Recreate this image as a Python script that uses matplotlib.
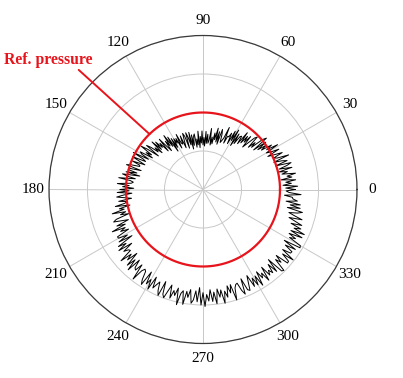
import numpy as np
import matplotlib
matplotlib.use("Agg")
import matplotlib.pyplot as plt

# Measured radius (grid units, 1 unit = one grid ring), one value per degree 0..359
radius = [
    2.39, 2.15, 2.46, 2.08, 2.30, 2.16, 2.42, 2.04, 2.33, 2.21,
    2.44, 2.09, 2.24, 2.03, 2.38, 2.05, 2.27, 2.39, 1.98, 2.31,
    2.18, 1.97, 2.40, 2.09, 2.01, 2.27, 2.06, 1.89, 2.23, 2.01,
    1.90, 2.26, 1.95, 2.12, 1.83, 2.00, 1.76, 2.04, 1.67, 2.12,
    2.02, 1.67, 1.82, 1.61, 1.96, 1.89, 1.68, 1.51, 1.85, 1.63,
    1.80, 1.56, 1.87, 1.49, 1.71, 1.68, 1.44, 1.72, 1.35, 1.80,
    1.47, 1.73, 1.35, 1.64, 1.52, 1.53, 1.32, 1.75, 1.44, 1.36,
    1.30, 1.52, 1.64, 1.23, 1.56, 1.28, 1.64, 1.33, 1.50, 1.21,
    1.38, 1.17, 1.60, 1.29, 1.21, 1.44, 1.20, 1.51, 1.13, 1.35,
    1.16, 1.52, 1.21, 1.38, 1.09, 1.52, 1.17, 1.32, 1.11, 1.46,
    1.41, 1.17, 1.45, 1.08, 1.53, 1.20, 1.42, 1.54, 1.13, 1.46,
    1.55, 1.34, 1.17, 1.51, 1.29, 1.33, 1.59, 1.21, 1.50, 1.38,
    1.52, 1.28, 1.56, 1.19, 1.64, 1.37, 1.73, 1.42, 1.59, 1.30,
    1.47, 1.73, 1.35, 1.64, 1.52, 1.74, 1.50, 1.81, 1.43, 1.65,
    1.52, 1.74, 1.86, 1.45, 1.78, 1.96, 1.61, 1.76, 1.55, 1.90,
    1.83, 1.62, 2.05, 1.74, 1.66, 2.02, 1.81, 1.64, 1.98, 1.76,
    1.75, 1.97, 2.09, 1.68, 2.01, 2.01, 1.77, 2.05, 1.68, 2.13,
    1.99, 1.78, 2.21, 1.90, 1.82, 1.87, 2.23, 1.92, 2.09, 1.80,
    2.16, 1.92, 2.23, 1.85, 2.07, 2.25, 2.04, 1.87, 2.21, 1.99,
    2.06, 2.32, 1.94, 2.23, 2.11, 2.44, 2.09, 2.24, 2.03, 2.38,
    2.47, 2.26, 2.09, 2.43, 2.21, 2.60, 2.25, 2.40, 2.19, 2.54,
    2.53, 2.29, 2.57, 2.20, 2.65, 2.44, 2.70, 2.32, 2.61, 2.49,
    2.46, 2.82, 2.51, 2.68, 2.39, 2.78, 2.54, 2.85, 2.47, 2.69,
    2.73, 2.52, 2.95, 2.64, 2.56, 2.60, 2.82, 2.94, 2.53, 2.86,
    2.70, 2.96, 2.58, 2.87, 2.75, 2.65, 2.87, 2.99, 2.58, 2.91,
    2.99, 2.78, 2.61, 2.95, 2.73, 2.85, 2.64, 3.07, 2.76, 2.68,
    3.03, 2.68, 2.83, 2.62, 2.97, 2.88, 2.64, 2.92, 2.55, 3.00,
    2.68, 3.04, 2.73, 2.90, 2.61, 2.92, 2.68, 2.99, 2.61, 2.83,
    2.65, 3.01, 2.70, 2.87, 2.58, 2.78, 2.57, 3.00, 2.69, 2.61,
    2.59, 2.81, 2.93, 2.52, 2.85, 2.89, 2.68, 2.51, 2.85, 2.63,
    2.86, 2.62, 2.93, 2.55, 2.77, 2.65, 2.91, 2.53, 2.82, 2.70,
    2.82, 2.58, 2.86, 2.49, 2.94, 2.97, 2.62, 2.77, 2.56, 2.91,
    2.90, 2.66, 2.97, 2.59, 2.81, 2.82, 2.58, 2.86, 2.49, 2.94,
    2.92, 2.57, 2.72, 2.51, 2.86, 2.52, 2.88, 2.57, 2.74, 2.45,
    2.73, 2.52, 2.35, 2.69, 2.47, 2.31, 2.53, 2.65, 2.24, 2.57,
    2.30, 2.56, 2.18, 2.47, 2.35, 2.33, 2.12, 2.55, 2.24, 2.16,
]
angle_deg = np.arange(len(radius))

ref_pressure = 2.0
ring_values = [1, 2, 3, 4]
theta_ticks = [0, 30, 60, 90, 120, 150, 180, 210, 240, 270, 300, 330]
theta_labels = [str(t) for t in theta_ticks]
annot_text = "Ref. pressure"

W, H = 403, 378
fig = plt.figure(figsize=(W / 100, H / 100), dpi=100)
cx, cy, R = 203.0, 189.5, 154.0
ax = fig.add_axes([(cx - R) / W, (H - cy - R) / H, 2 * R / W, 2 * R / H],
                  projection="polar")

serif = ["Liberation Serif", "DejaVu Serif"]

th = np.deg2rad(np.append(angle_deg, angle_deg[0]))
rr = np.append(radius, radius[0])
ax.plot(th, rr, color="black", lw=0.7, zorder=3)

tfull = np.linspace(0, 2 * np.pi, 400)
ax.plot(tfull, np.full_like(tfull, ref_pressure), color="#e8141c", lw=1.6, zorder=4)

ax.set_rlim(0, 4)
ax.set_rticks(ring_values)
ax.set_yticklabels([])
ax.set_thetagrids(theta_ticks, labels=[""] * len(theta_ticks))
ax.grid(True, color="#c8c8c8", lw=0.7)
ax.spines["polar"].set_color("#3a3a3a")
ax.spines["polar"].set_linewidth(0.9)
ax.tick_params(length=0)

for t, lab in zip(theta_ticks, theta_labels):
    ax.text(np.deg2rad(t), 4 * 169.5 / 154, lab, ha="center", va="center",
            fontsize=11, family=serif, color="black")

# annotation line from label to the reference circle
ax.annotate("", xy=(np.deg2rad(134), ref_pressure), xytext=(np.deg2rad(136.1), 4.48),
            arrowprops=dict(arrowstyle="-", color="#e8141c", lw=1.4,
                            shrinkA=0, shrinkB=0),
            annotation_clip=False)
fig.text(48.7 / W, 1 - 59.5 / H, annot_text, ha="center", va="center",
         fontsize=11.3, fontweight="bold", family=serif, color="#e8141c")

fig.savefig("out.png", dpi=100)
